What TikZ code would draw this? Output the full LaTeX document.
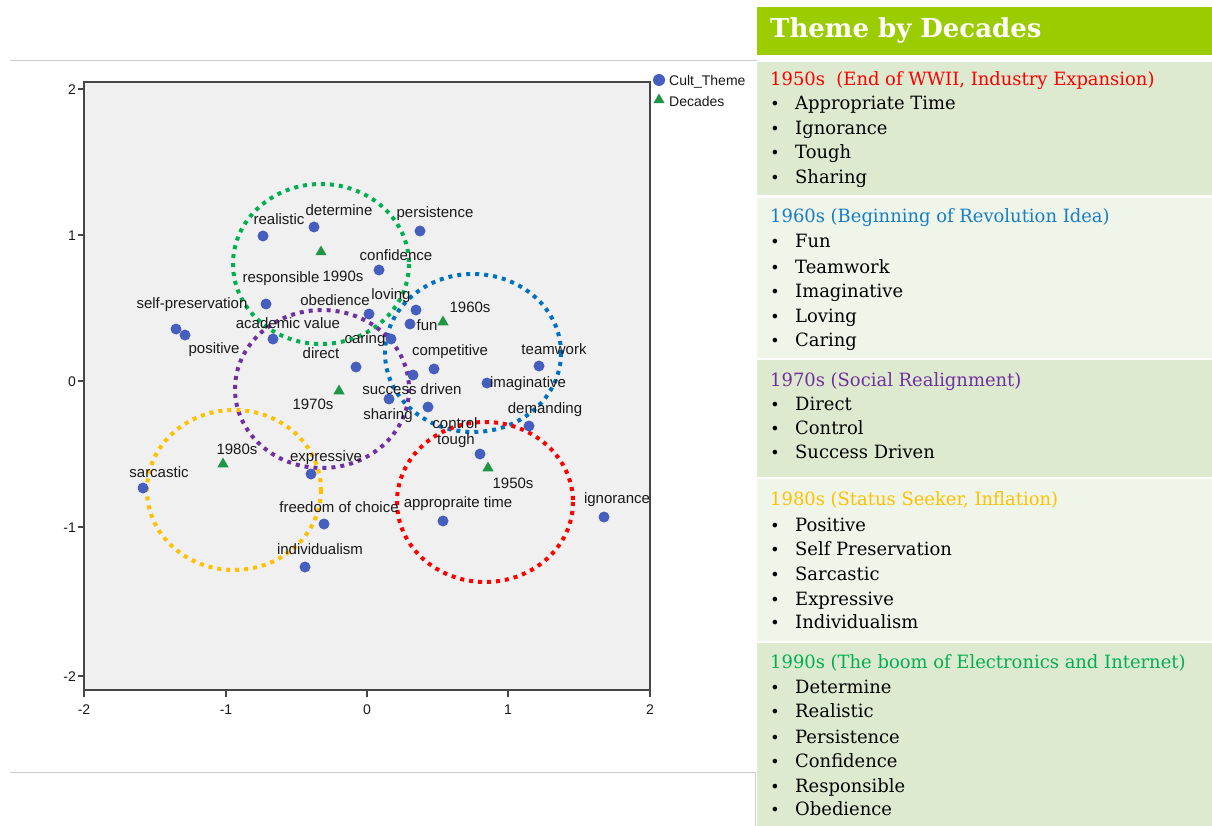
\documentclass[tikz,border=0pt]{standalone}
\usepackage{fontspec}
\setmainfont{Liberation Sans}
\newfontfamily\slab[FakeStretch=0.98]{DejaVu Serif}
\newfontfamily\slabtitle[FakeStretch=1.0]{DejaVu Serif}
\usetikzlibrary{shapes.geometric}
\definecolor{dotblue}{RGB}{70,94,190}
\definecolor{trigreen}{RGB}{30,150,70}
\definecolor{cgreen}{RGB}{0,176,80}
\definecolor{cblue}{RGB}{0,112,192}
\definecolor{cpurple}{RGB}{112,48,160}
\definecolor{cyellow}{RGB}{255,192,0}
\definecolor{cred}{RGB}{255,0,0}
\definecolor{plotbg}{RGB}{240,240,240}
\definecolor{hdrgreen}{RGB}{155,204,0}
\definecolor{rowdark}{RGB}{222,234,207}
\definecolor{rowlight}{RGB}{239,245,233}
\definecolor{tblue}{RGB}{22,125,200}
\definecolor{framegray}{RGB}{70,70,70}
\definecolor{linegray}{RGB}{205,205,205}
\newcommand{\pitem}[3]{\node[itemtxt] (#1) at (795,#2) {#3}; \node[bul] (#1b) at (775,#2) {•};}
\begin{document}
\begin{tikzpicture}[x=1pt,y=-1pt,
  pt/.style={circle, fill=dotblue, inner sep=0pt, minimum size=11pt},
  tri/.style={regular polygon, regular polygon sides=3, fill=trigreen, inner sep=0pt, minimum size=13pt},
  lbl/.style={font=\fontsize{15}{17}\selectfont, text=black!90, inner sep=0pt},
  tick/.style={font=\fontsize{14}{16}\selectfont, text=black!90, inner sep=0pt},
  ring/.style={line width=4pt, dash pattern=on 4pt off 5pt},
  itemtxt/.style={anchor=base west, inner sep=0pt, font=\slab\fontsize{18.3}{20}\selectfont, text=black},
  bul/.style={anchor=base, inner sep=0pt, font=\slab\fontsize{16}{18}\selectfont, text=black},
  hdr/.style={anchor=base west, inner sep=0pt, font=\slab\fontsize{18.3}{20}\selectfont},
  rowbox/.style={draw=none, inner sep=0pt}
]
\useasboundingbox (0,0) rectangle (1212,826);
\fill[white] (0,0) rectangle (1212,826);
% slide lines
\draw[linegray, line width=1pt] (10,61) -- (757,61);
\draw[linegray, line width=1pt] (10,772) -- (755,772) -- (755,826);
% plot frame
\draw[framegray, line width=1.6pt, fill=plotbg] (84,82) rectangle (650,690);
% y ticks
\foreach \yy/\lab in {89/2, 235/1, 381/0, 527/-1, 676/-2}{
  \draw[framegray, line width=1.6pt] (78,\yy) -- (84,\yy);
  \node[tick, anchor=east] at (76,\yy+1) {\lab};
}
% x ticks
\foreach \xx/\lab in {84/-2, 226/-1, 367/0, 508/1, 650/2}{
  \draw[framegray, line width=1.6pt] (\xx,690) -- (\xx,697);
  \node[tick, anchor=north] at (\xx,705) {\lab};
}
% legend
\node[pt, minimum size=12pt] (legdot) at (659,80) {};
\node[lbl, anchor=west, font=\fontsize{14}{16}\selectfont] (legtxt1) at (669,82) {Cult\_Theme};
\node[tri, minimum size=13pt] (legtri) at (659,100) {};
\node[lbl, anchor=west, font=\fontsize{14}{16}\selectfont] (legtxt2) at (669,101) {Decades};
% rings
\draw[ring, cgreen] (321,264) ellipse [x radius=88, y radius=80];
\draw[ring, cblue] (473,353) ellipse [x radius=88, y radius=79];
\draw[ring, cpurple] (322,389) ellipse [x radius=87, y radius=79];
\draw[ring, cyellow] (234,490) ellipse [x radius=87, y radius=80];
\draw[ring, cred] (485,502) ellipse [x radius=88, y radius=80];
% dots
\node[pt] (d-realistic) at (263,236) {};
\node[pt] (d-determine) at (314,227) {};
\node[pt] (d-persistence) at (420,231) {};
\node[pt] (d-confidence) at (379,270) {};
\node[pt] (d-responsible) at (266,304) {};
\node[pt] (d-obedience) at (369,314) {};
\node[pt] (d-loving) at (416,310) {};
\node[pt] (d-fun) at (410,324) {};
\node[pt] (d-academic) at (273,339) {};
\node[pt] (d-selfpres) at (176,329) {};
\node[pt] (d-positive) at (185,335) {};
\node[pt] (d-caring) at (391,339) {};
\node[pt] (d-direct) at (356,367) {};
\node[pt] (d-competitive) at (434,369) {};
\node[pt] (d-success) at (413,375) {};
\node[pt] (d-sharing) at (389,399) {};
\node[pt] (d-control) at (428,407) {};
\node[pt] (d-imaginative) at (487,383) {};
\node[pt] (d-teamwork) at (539,366) {};
\node[pt] (d-demanding) at (529,426) {};
\node[pt] (d-tough) at (480,454) {};
\node[pt] (d-approp) at (443,521) {};
\node[pt] (d-ignorance) at (604,517) {};
\node[pt] (d-sarcastic) at (143,488) {};
\node[pt] (d-expressive) at (311,474) {};
\node[pt] (d-freedom) at (324,524) {};
\node[pt] (d-individualism) at (305,567) {};
% triangles
\node[tri] (t-1990) at (321,252) {};
\node[tri] (t-1960) at (443,322) {};
\node[tri] (t-1970) at (339,391) {};
\node[tri] (t-1980) at (223,464) {};
\node[tri] (t-1950) at (488,468) {};
% labels
\node[lbl] (l-realistic) at (279,219) {realistic};
\node[lbl] (l-determine) at (339,210) {determine};
\node[lbl] (l-persistence) at (435,214) {persistence};
\node[lbl] (l-confidence) at (396,255) {confidence};
\node[lbl] (l-1990) at (343,276) {1990s};
\node[lbl] (l-responsible) at (281,279) {responsible};
\node[lbl] (l-selfpres) at (192,305) {self-preservation};
\node[lbl] (l-obedience) at (335,300) {obedience};
\node[lbl] (l-loving) at (391,296) {loving};
\node[lbl] (l-1960) at (470,307) {1960s};
\node[lbl] (l-academic) at (288,323) {academic value};
\node[lbl] (l-fun) at (427,325) {fun};
\node[lbl] (l-caring) at (365,340) {caring};
\node[lbl] (l-positive) at (214,350) {positive};
\node[lbl] (l-direct) at (321,353) {direct};
\node[lbl] (l-competitive) at (450,352) {competitive};
\node[lbl] (l-teamwork) at (554,349) {teamwork};
\node[lbl] (l-success) at (412,389) {success driven};
\node[lbl] (l-imaginative) at (528,384) {imaginative};
\node[lbl] (l-1970) at (313,404) {1970s};
\node[lbl] (l-sharing) at (388,416) {sharing};
\node[lbl] (l-control) at (455,423) {control};
\node[lbl] (l-demanding) at (545,410) {demanding};
\node[lbl] (l-tough) at (456,441) {tough};
\node[lbl] (l-1980) at (237,449) {1980s};
\node[lbl] (l-expressive) at (326,458) {expressive};
\node[lbl] (l-sarcastic) at (159,472) {sarcastic};
\node[lbl] (l-1950) at (513,483) {1950s};
\node[lbl] (l-ignorance) at (617,500) {ignorance};
\node[lbl] (l-approp) at (458,504) {appropraite time};
\node[lbl] (l-freedom) at (339,507) {freedom of choice};
\node[lbl] (l-individualism) at (320,549) {individualism};
% right panel
\fill[hdrgreen] (757,7) rectangle (1212,55);
\fill[rowdark] (757,62) rectangle (1212,195);
\fill[rowlight] (757,198) rectangle (1212,358);
\fill[rowdark] (757,360) rectangle (1212,477);
\fill[rowlight] (757,479) rectangle (1212,641);
\fill[rowdark] (757,643) rectangle (1212,826);
\node[anchor=base west, inner sep=0pt, text=white, font=\slabtitle\bfseries\fontsize{26}{28}\selectfont] (title) at (770,38) {Theme by Decades};
\node[hdr, text=cred] (h50) at (770,86) {1950s\ \ (End of WWII, Industry Expansion)};
\pitem{i50a}{110}{Appropriate Time}
\pitem{i50b}{135}{Ignorance}
\pitem{i50c}{159}{Tough}
\pitem{i50d}{184}{Sharing}
\node[hdr, text=tblue] (h60) at (770,223) {1960s (Beginning of Revolution Idea)};
\pitem{i60a}{248}{Fun}
\pitem{i60b}{273}{Teamwork}
\pitem{i60c}{297}{Imaginative}
\pitem{i60d}{322}{Loving}
\pitem{i60e}{346}{Caring}
\node[hdr, text=cpurple] (h70) at (770,386) {1970s (Social Realignment)};
\pitem{i70a}{410}{Direct}
\pitem{i70b}{434}{Control}
\pitem{i70c}{458}{Success Driven}
\node[hdr, text=cyellow] (h80) at (770,505) {1980s (Status Seeker, Inflation)};
\pitem{i80a}{531}{Positive}
\pitem{i80b}{555}{Self Preservation}
\pitem{i80c}{580}{Sarcastic}
\pitem{i80d}{605}{Expressive}
\pitem{i80e}{628}{Individualism}
\node[hdr, text=cgreen] (h90) at (770,668) {1990s (The boom of Electronics and Internet)};
\pitem{i90a}{693}{Determine}
\pitem{i90b}{717}{Realistic}
\pitem{i90c}{743}{Persistence}
\pitem{i90d}{767}{Confidence}
\pitem{i90e}{792}{Responsible}
\pitem{i90f}{815}{Obedience}
\end{tikzpicture}
\end{document}
